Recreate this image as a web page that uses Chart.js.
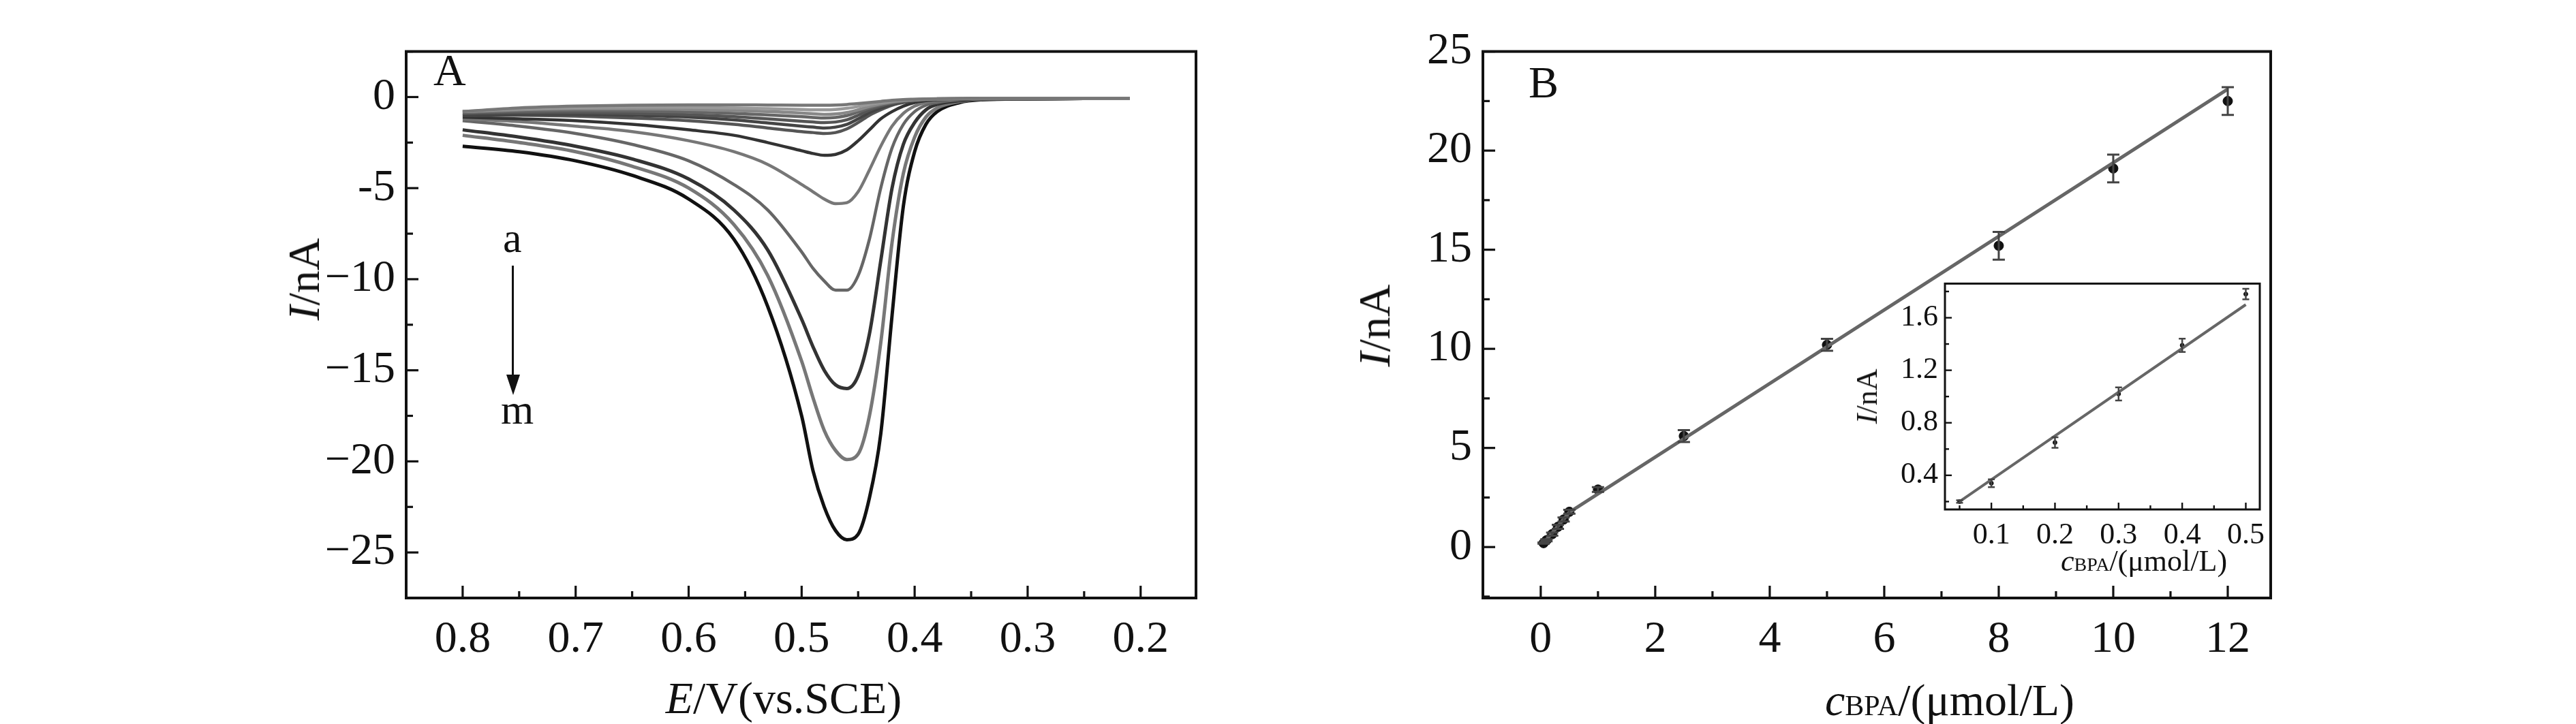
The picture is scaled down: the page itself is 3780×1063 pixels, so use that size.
<!DOCTYPE html>
<html><head><meta charset="utf-8">
<script src="https://cdn.jsdelivr.net/npm/chart.js@4/dist/chart.umd.min.js"></script>
<style>
body{margin:0;width:3780px;height:1063px;background:#fff;position:relative;overflow:hidden;font-family:"Liberation Serif",serif;}
canvas{position:absolute;}
.t{position:absolute;font-family:"Liberation Serif",serif;color:#111;white-space:nowrap;line-height:1;}
</style></head><body>
<canvas id="ca" style="left:400px;top:20px;width:1360px;height:1043px"></canvas>
<canvas id="cb" style="left:1950px;top:20px;width:1450px;height:1043px"></canvas>
<canvas id="ci" style="left:2760px;top:380px;width:600px;height:460px"></canvas>
<div class="t" style="left:636px;top:70px;font-size:66px">A</div>
<div class="t" style="left:2243px;top:88px;font-size:66px">B</div>
<div class="t" style="left:738px;top:318px;font-size:62px">a</div>
<div class="t" style="left:735px;top:570px;font-size:62px">m</div>
<div style="position:absolute;left:751px;top:390px;width:3px;height:165px;background:#111"></div>
<div style="position:absolute;left:743px;top:550px;width:0;height:0;border-left:10px solid transparent;border-right:10px solid transparent;border-top:30px solid #111"></div>
<div class="t" style="left:1150px;top:1025px;font-size:66px;transform:translate(-50%,-50%)"><i>E</i>/V(vs.SCE)</div>
<div class="t" style="left:446px;top:410px;font-size:66px;transform:translate(-50%,-50%) rotate(-90deg)"><i>I</i>/nA</div>
<div class="t" style="left:2861px;top:1028px;font-size:66px;transform:translate(-50%,-50%)"><i>c</i><span style="font-size:42px">BPA</span>/(μmol/L)</div>
<div class="t" style="left:2017px;top:478px;font-size:66px;transform:translate(-50%,-50%) rotate(-90deg)"><i>I</i>/nA</div>
<div class="t" style="left:3146px;top:824px;font-size:44px;transform:translate(-50%,-50%)"><i>c</i><span style="font-size:28px">BPA</span>/(μmol/L)</div>
<div class="t" style="left:2740px;top:582px;font-size:44px;transform:translate(-50%,-50%) rotate(-90deg)"><i>I</i>/nA</div>
<script>
// ---- Panel A data ----
const potentials=[0.80,0.75,0.70,0.65,0.60,0.56,0.53,0.50,0.49,0.48,0.47,0.46,0.45,0.44,0.43,0.42,0.41,0.40,0.39,0.38,0.36,0.34,0.30,0.25,0.21];
const curveA=[-0.8,-0.6,-0.5,-0.45,-0.43,-0.43,-0.44,-0.45,-0.45,-0.45,-0.44,-0.41,-0.36,-0.3,-0.24,-0.18,-0.14,-0.12,-0.1,-0.09,-0.08,-0.08,-0.08,-0.08,-0.08];
const curveB=[-0.8,-0.65,-0.57,-0.55,-0.56,-0.6,-0.64,-0.68,-0.7,-0.7,-0.68,-0.62,-0.52,-0.4,-0.3,-0.22,-0.17,-0.13,-0.11,-0.1,-0.09,-0.08,-0.08,-0.08,-0.08];
const curveC=[-0.8,-0.7,-0.65,-0.65,-0.68,-0.74,-0.8,-0.88,-0.92,-0.95,-0.93,-0.85,-0.7,-0.52,-0.38,-0.27,-0.2,-0.15,-0.12,-0.1,-0.09,-0.08,-0.08,-0.08,-0.08];
const curveD=[-0.85,-0.78,-0.75,-0.77,-0.82,-0.9,-0.98,-1.08,-1.12,-1.15,-1.12,-1.02,-0.82,-0.6,-0.43,-0.3,-0.22,-0.17,-0.13,-0.11,-0.1,-0.08,-0.08,-0.08,-0.08];
const curveE=[-0.9,-0.85,-0.85,-0.9,-0.97,-1.08,-1.2,-1.33,-1.37,-1.4,-1.37,-1.25,-1.0,-0.72,-0.5,-0.35,-0.25,-0.18,-0.14,-0.12,-0.1,-0.08,-0.08,-0.08,-0.08];
const curveF=[-1.0,-0.95,-0.95,-1.0,-1.1,-1.25,-1.42,-1.6,-1.65,-1.7,-1.65,-1.5,-1.2,-0.85,-0.6,-0.4,-0.27,-0.2,-0.15,-0.12,-0.1,-0.08,-0.08,-0.08,-0.08];
const curveG=[-1.0,-1.0,-1.05,-1.15,-1.3,-1.5,-1.7,-1.9,-1.95,-2.0,-1.95,-1.75,-1.4,-1.0,-0.7,-0.45,-0.3,-0.2,-0.15,-0.12,-0.1,-0.08,-0.08,-0.08,-0.08];
const curveH=[-1.1,-1.2,-1.3,-1.5,-1.8,-2.1,-2.5,-2.95,-3.1,-3.2,-3.15,-2.9,-2.4,-1.8,-1.2,-0.8,-0.5,-0.3,-0.2,-0.15,-0.1,-0.08,-0.08,-0.08,-0.08];
const curveI=[-1.2,-1.35,-1.6,-1.9,-2.4,-3.0,-3.7,-4.8,-5.2,-5.6,-5.85,-5.8,-5.2,-4.0,-2.7,-1.6,-0.9,-0.5,-0.3,-0.2,-0.12,-0.1,-0.08,-0.08,-0.08];
const curveJ=[-1.3,-1.6,-2.0,-2.6,-3.5,-4.8,-6.2,-8.5,-9.4,-10.1,-10.6,-10.6,-9.8,-7.8,-5.0,-2.8,-1.5,-0.8,-0.45,-0.3,-0.15,-0.1,-0.08,-0.08,-0.08];
const curveK=[-1.8,-2.2,-2.7,-3.4,-4.5,-6.2,-8.4,-12.2,-13.7,-15.0,-15.8,-16.0,-15.3,-13.0,-9.0,-5.0,-2.6,-1.4,-0.7,-0.4,-0.2,-0.12,-0.1,-0.08,-0.08];
const curveL=[-2.1,-2.5,-3.0,-3.8,-5.0,-7.0,-9.8,-14.5,-16.5,-18.3,-19.4,-19.9,-19.6,-17.5,-13.5,-8.0,-4.2,-2.2,-1.1,-0.6,-0.25,-0.12,-0.1,-0.08,-0.08];
const curveM=[-2.7,-3.0,-3.5,-4.3,-5.6,-7.8,-11.5,-17.5,-20.5,-22.5,-23.8,-24.3,-24.0,-22.0,-18.5,-12.0,-6.0,-3.0,-1.5,-0.8,-0.3,-0.15,-0.1,-0.08,-0.08];
const curvesA=[curveA,curveB,curveC,curveD,curveE,curveF,curveG,curveH,curveI,curveJ,curveK,curveL,curveM];
const curveColors=['#777','#999','#888','#666','#555','#444','#555','#333','#777','#666','#333','#777','#111'];
const ticksAx=[0.8,0.7,0.6,0.5,0.4,0.3,0.2];
const ticksAy=[0,-5,-10,-15,-20,-25];
const labelsAy=['0','-5','−10','−15','−20','−25'];
// ---- Panel B data ----
const conc=[0.05,0.1,0.2,0.3,0.4,0.5,1,2.5,5,8,10,12];
const current=[0.2,0.34,0.65,1.02,1.39,1.78,2.9,5.6,10.2,15.2,19.1,22.5];
const currentErr=[0.03,0.05,0.08,0.1,0.1,0.1,0.12,0.3,0.3,0.7,0.7,0.7];
const fitX=[0.05,0.5,12];
const fitY=[0.2,1.75,23.1];
const ticksBx=[0,2,4,6,8,10,12];
const ticksBy=[0,5,10,15,20,25];
// ---- Inset data ----
const concIn=[0.05,0.1,0.2,0.3,0.4,0.5];
const currentIn=[0.2,0.34,0.65,1.02,1.39,1.78];
const errIn=[0.01,0.03,0.04,0.05,0.05,0.04];
const fitInX=[0.05,0.5];
const fitInY=[0.2,1.70];
const ticksIx=[0.1,0.2,0.3,0.4,0.5];
const ticksIy=[0.4,0.8,1.2,1.6];
const labelsIy=['0.4','0.8','1.2','1.6'];

const FONT='"Liberation Serif", serif';
function pts(xs,ys){return xs.map((x,i)=>({x:x,y:ys[i]}));}

const framePlugin={id:'frame',afterDraw(ch){
  const o=ch.options.plugins.frame; const a=ch.chartArea; const c=ch.ctx;
  c.save(); c.strokeStyle='#111'; c.lineWidth=o.lw;
  c.strokeRect(a.left,a.top,a.right-a.left,a.bottom-a.top);
  const xs=ch.scales.x, ys=ch.scales.y;
  c.lineWidth=o.lw*0.8;
  const drawX=(v,L)=>{const p=xs.getPixelForValue(v); if(p<a.left||p>a.right)return; c.beginPath();c.moveTo(p,a.bottom);c.lineTo(p,a.bottom-L);c.stroke();};
  const drawY=(v,L)=>{const p=ys.getPixelForValue(v); if(p<a.top||p>a.bottom)return; c.beginPath();c.moveTo(a.left,p);c.lineTo(a.left+L,p);c.stroke();};
  o.xMaj.forEach(v=>drawX(v,o.maj)); o.xMin.forEach(v=>drawX(v,o.min));
  o.yMaj.forEach(v=>drawY(v,o.maj)); o.yMin.forEach(v=>drawY(v,o.min));
  c.restore();
}};
const errPlugin={id:'errbars',afterDatasetsDraw(ch){
  const o=ch.options.plugins.errbars; if(!o||!o.err)return;
  const c=ch.ctx, xs=ch.scales.x, ys=ch.scales.y;
  c.save(); c.strokeStyle='#444'; c.lineWidth=o.lw;
  o.xs.forEach((x,i)=>{const px=xs.getPixelForValue(x); const y1=ys.getPixelForValue(o.ys[i]-o.err[i]); const y2=ys.getPixelForValue(o.ys[i]+o.err[i]);
    c.beginPath();c.moveTo(px,y1);c.lineTo(px,y2);c.moveTo(px-o.cap,y1);c.lineTo(px+o.cap,y1);c.moveTo(px-o.cap,y2);c.lineTo(px+o.cap,y2);c.stroke();});
  c.restore();
}};
Chart.register(framePlugin,errPlugin);

function scaleX(min,max,ticks,labels,size,pad,h,rev){return {type:'linear',min:min,max:max,reverse:!!rev,
  afterBuildTicks(s){s.ticks=ticks.map(v=>({value:v}));},
  afterFit(s){s.height=h;},
  grid:{display:false,drawTicks:false},border:{display:false},
  ticks:{color:'#111',font:{family:FONT,size:size},padding:pad,maxRotation:0,autoSkip:false,
    callback:(v)=>{const i=ticks.indexOf(v);return labels?labels[i]:String(v);}}};}
function scaleY(min,max,ticks,labels,size,pad,w){return {type:'linear',min:min,max:max,
  afterBuildTicks(s){s.ticks=ticks.map(v=>({value:v}));},
  afterFit(s){s.width=w;},
  grid:{display:false,drawTicks:false},border:{display:false},
  ticks:{color:'#111',font:{family:FONT,size:size},padding:pad,autoSkip:false,
    callback:(v)=>{const i=ticks.indexOf(v);return labels?labels[i]:String(v);}}};}
const base={responsive:false,animation:false,devicePixelRatio:1,plugins:{legend:{display:false},tooltip:{enabled:false}}};

function mk(id,w,h){const cv=document.getElementById(id);cv.width=w;cv.height=h;return cv;}

// Panel A
new Chart(mk('ca',1360,1043),{type:'line',
  data:{datasets:curvesA.map((cv,i)=>({data:pts(potentials,cv),borderColor:curveColors[i],borderWidth:i>9?5:4.5,pointRadius:0,tension:0.4,cubicInterpolationMode:'monotone',fill:false}))},
  options:Object.assign({},base,{layout:{padding:{top:38,right:5,left:0,bottom:0}},
    scales:{x:scaleX(0.151,0.85,ticksAx,null,66,22,185,true),y:scaleY(-27.5,2.5,ticksAy,labelsAy,66,16,196)},
    plugins:Object.assign({},base.plugins,{frame:{lw:4,maj:18,min:10,xMaj:ticksAx,xMin:[0.75,0.65,0.55,0.45,0.35,0.25],yMaj:ticksAy,yMin:[2.5,-2.5,-7.5,-12.5,-17.5,-22.5,-27.5]}})})});

// Panel B
new Chart(mk('cb',1450,1043),{type:'scatter',
  data:{datasets:[
    {type:'line',data:pts(fitX,fitY),borderColor:'#666',borderWidth:5,pointRadius:0,tension:0},
    {data:pts(conc,current),backgroundColor:'#111',borderColor:'#111',pointRadius:7}]},
  options:Object.assign({},base,{layout:{padding:{top:38,right:68,left:0,bottom:0}},
    scales:{x:scaleX(-1.01,12.75,ticksBx,null,66,22,185),y:scaleY(-2.57,25,ticksBy,null,66,16,226)},
    plugins:Object.assign({},base.plugins,{errbars:{xs:conc,ys:current,err:currentErr,cap:9,lw:3},
      frame:{lw:4,maj:18,min:10,xMaj:ticksBx,xMin:[1,3,5,7,9,11],yMaj:ticksBy,yMin:[-2.5,2.5,7.5,12.5,17.5,22.5]}})})});

// Inset
new Chart(mk('ci',600,460),{type:'scatter',
  data:{datasets:[
    {type:'line',data:pts(fitInX,fitInY),borderColor:'#666',borderWidth:4,pointRadius:0,tension:0},
    {data:pts(concIn,currentIn),backgroundColor:'#111',borderColor:'#111',pointRadius:3}]},
  options:Object.assign({},base,{layout:{padding:{top:34,right:44,left:0,bottom:0}},
    scales:{x:scaleX(0.027,0.522,ticksIx,null,44,12,92),y:scaleY(0.14,1.86,ticksIy,labelsIy,44,10,94)},
    plugins:Object.assign({},base.plugins,{errbars:{xs:concIn,ys:currentIn,err:errIn,cap:5,lw:2.5},
      frame:{lw:3,maj:10,min:6,xMaj:ticksIx,xMin:[0.05,0.15,0.25,0.35,0.45],yMaj:ticksIy,yMin:[0.2,0.6,1.0,1.4,1.8]}})})});
</script>
</body></html>
